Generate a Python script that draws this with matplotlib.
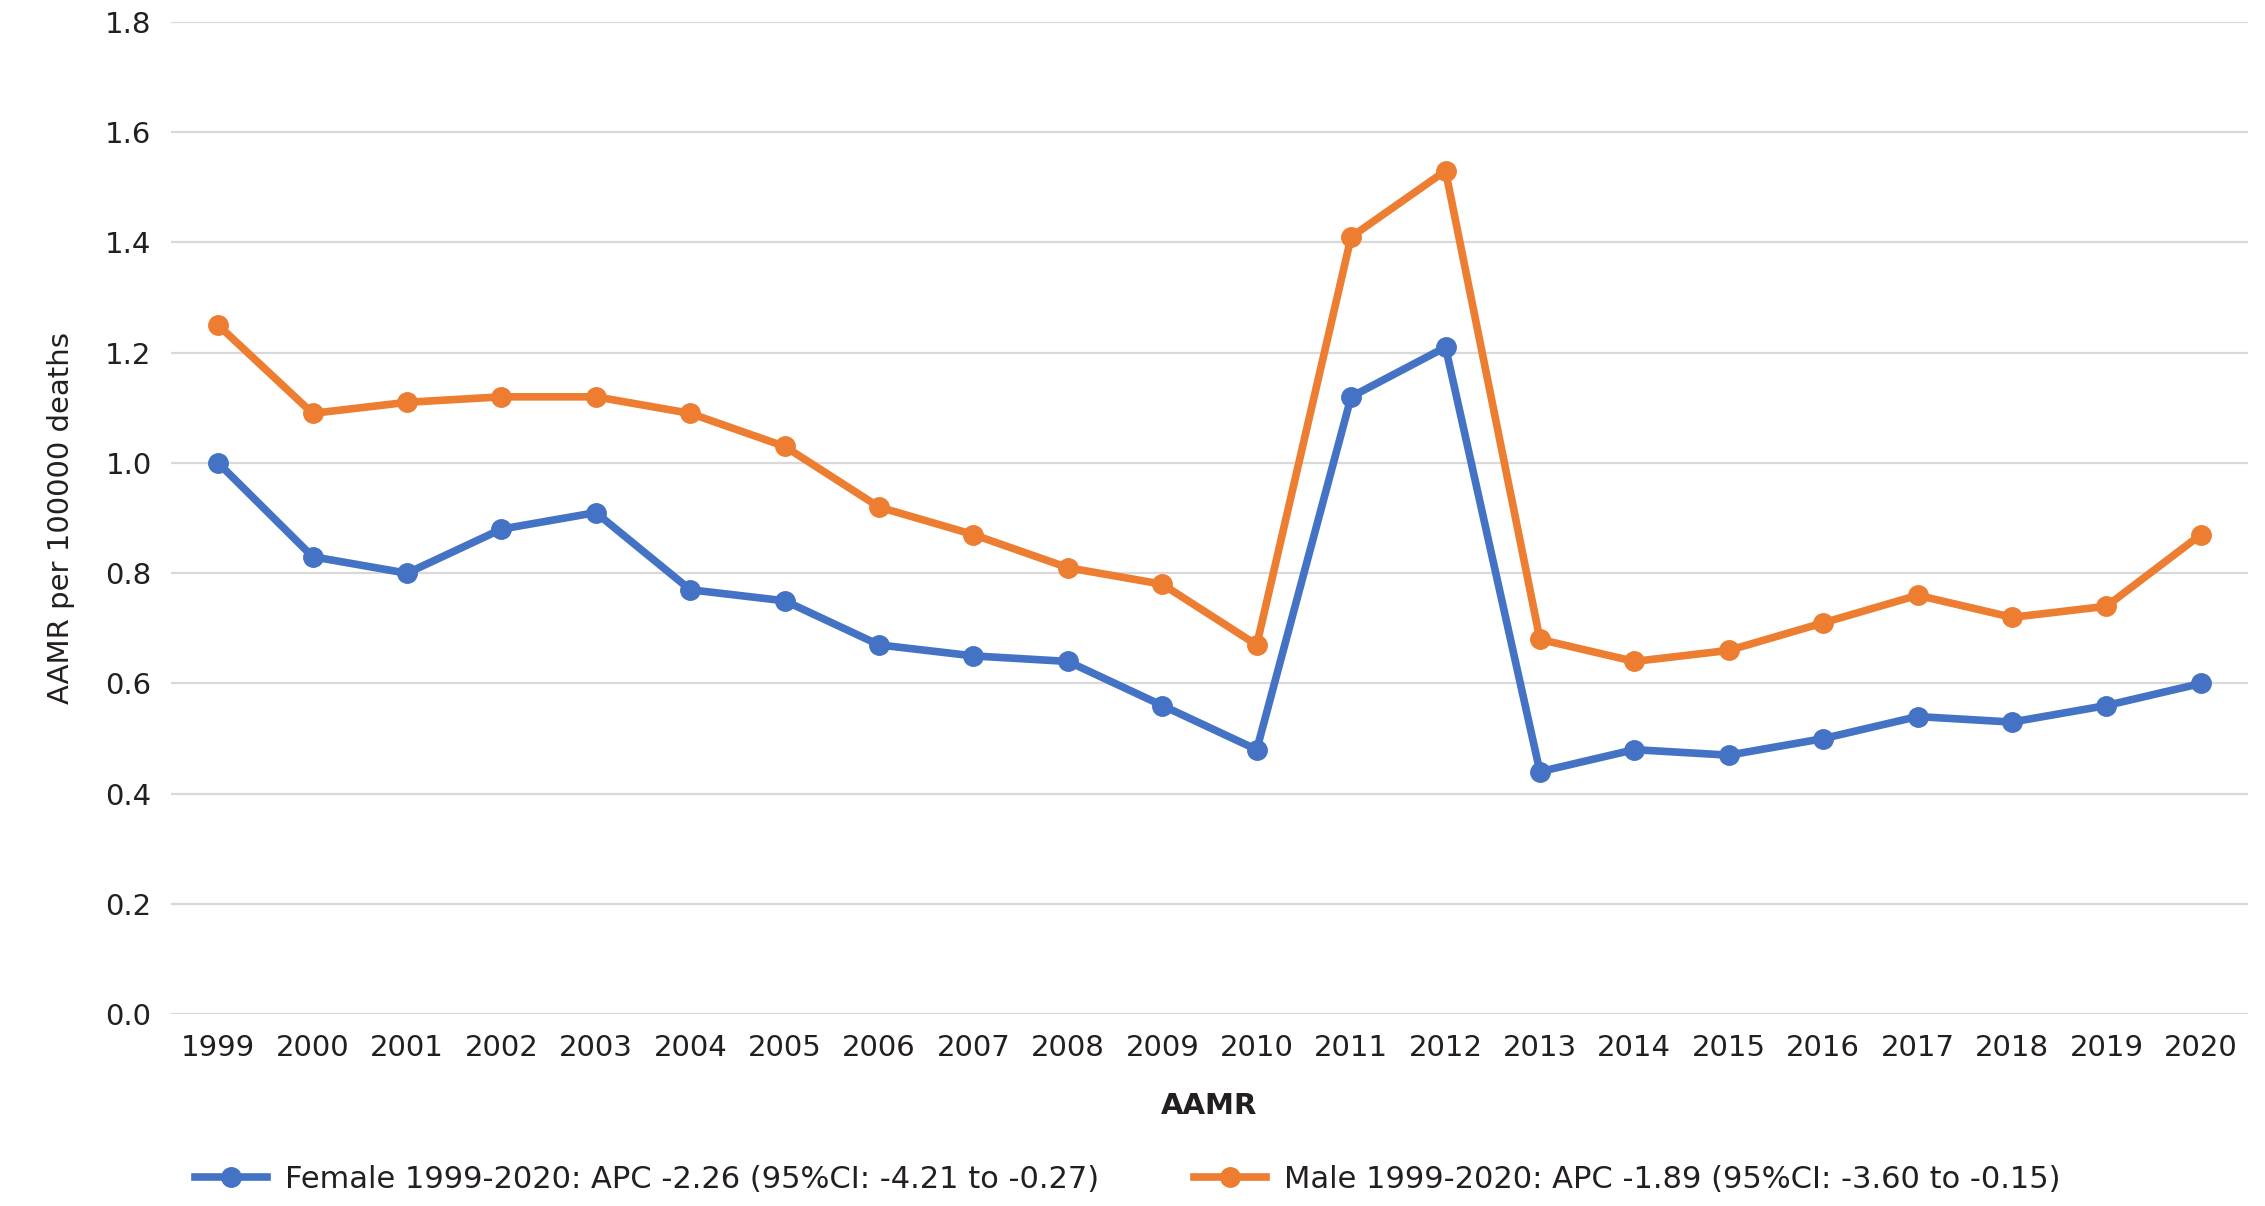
import matplotlib
matplotlib.use('Agg')
import matplotlib.pyplot as plt
import numpy as np

# data
years = ['1999', '2000', '2001', '2002', '2003', '2004', '2005', '2006', '2007', '2008', '2009',
         '2010', '2011', '2012', '2013', '2014', '2015', '2016', '2017', '2018', '2019', '2020']
female = [1.00, 0.83, 0.80, 0.88, 0.91, 0.77, 0.75, 0.67, 0.65, 0.64, 0.56,
          0.48, 1.12, 1.21, 0.44, 0.48, 0.47, 0.50, 0.54, 0.53, 0.56, 0.60]
male = [1.25, 1.09, 1.11, 1.12, 1.12, 1.09, 1.03, 0.92, 0.87, 0.81, 0.78,
        0.67, 1.41, 1.53, 0.68, 0.64, 0.66, 0.71, 0.76, 0.72, 0.74, 0.87]
female_lab = 'Female 1999-2020: APC -2.26 (95%CI: -4.21 to -0.27)'
male_lab = 'Male 1999-2020: APC -1.89 (95%CI: -3.60 to -0.15)'
yticks = [0.0, 0.2, 0.4, 0.6, 0.8, 1.0, 1.2, 1.4, 1.6, 1.8]

plt.rcParams['font.family'] = ['DejaVu Sans']

fig = plt.figure(figsize=(22.65, 12.06), dpi=100)
ax = fig.add_axes([0.0755, 0.159, 0.917, 0.8228])

x = np.arange(len(years))
ax.plot(x, female, 'o-', color='#4472C4', lw=5.5, ms=14, label=female_lab)
ax.plot(x, male, 'o-', color='#ED7D31', lw=5.5, ms=14, label=male_lab)

ax.set_xlim(-0.5, len(years) - 0.5)
ax.set_ylim(0, 1.8)
ax.set_xticks(x)
ax.set_xticklabels(years)
ax.set_yticks(yticks)
ax.set_yticklabels(['%.1f' % v for v in yticks])
ax.tick_params(axis='both', length=0, labelsize=21, colors='#231F20')
ax.tick_params(axis='x', pad=14)
ax.tick_params(axis='y', pad=14)
ax.grid(True, axis='y', color='#D9D9D9', lw=1.6)
ax.set_axisbelow(True)
for s in ax.spines.values():
    s.set_visible(False)

ax.set_ylabel('AAMR per 100000 deaths', fontsize=21, color='#231F20')
ax.yaxis.set_label_coords(-0.046, 0.5)
ax.set_xlabel('AAMR', fontsize=21, fontweight='bold', color='#231F20')
ax.xaxis.set_label_coords(0.5, -0.078)

fig.legend(loc='center', bbox_to_anchor=(1128 / 2265, 1 - 1179 / 1206), ncol=2, frameon=False,
           fontsize=22, handlelength=2.35, handletextpad=0.6, columnspacing=3.1,
           labelcolor='#231F20')

fig.savefig('out.png', dpi=100)
